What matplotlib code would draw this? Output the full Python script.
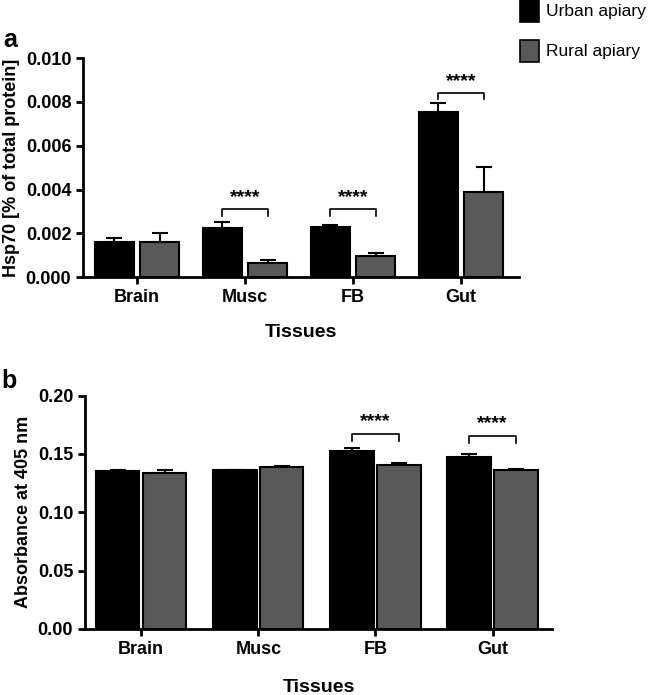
import numpy as np
import matplotlib
matplotlib.use("Agg")
import matplotlib.pyplot as plt

plt.rcParams['font.family'] = ['Liberation Sans', 'DejaVu Sans']

tissues = ["Brain", "Musc", "FB", "Gut"]

# panel a: Hsp70 [% of total protein]
hsp_urban = [0.00162, 0.00223, 0.00231, 0.00754]
hsp_urban_err = [0.00016, 0.00029, 0.00007, 0.00041]
hsp_rural = [0.00163, 0.00066, 0.00097, 0.00388]
hsp_rural_err = [0.00039, 0.00014, 0.00014, 0.00115]
hsp_sig = [None, 0.00311, 0.00311, 0.00842]

# panel b: absorbance at 405 nm
abs_urban = [0.1358, 0.1364, 0.1524, 0.1475]
abs_urban_err = [0.0003, 0.0003, 0.0028, 0.0028]
abs_rural = [0.1335, 0.1387, 0.1407, 0.1364]
abs_rural_err = [0.0026, 0.0011, 0.0014, 0.0006]
abs_sig = [None, None, 0.1675, 0.1658]

URBAN = "black"
RURAL = "#595959"

fig = plt.figure(figsize=(6.49, 6.95), dpi=100)


def draw_panel(ax, urban, uerr, rural, rerr, sig, width, off, xlim, ylim, yticks, fmt,
               ylabel, drop, xpad):
    x = np.arange(len(tissues))
    ax.bar(x - off, urban, width, color=URBAN, edgecolor="black", linewidth=1.5, zorder=2)
    ax.bar(x + off, rural, width, color=RURAL, edgecolor="black", linewidth=1.5, zorder=2)
    ax.errorbar(x - off, urban, yerr=[np.zeros(len(x)), uerr], fmt="none",
                ecolor="black", elinewidth=1.5, capsize=6, capthick=1.5, zorder=1)
    ax.errorbar(x + off, rural, yerr=[np.zeros(len(x)), rerr], fmt="none",
                ecolor="black", elinewidth=1.5, capsize=6, capthick=1.5, zorder=1)
    for i, s in enumerate(sig):
        if s is None:
            continue
        ax.plot([i - off, i - off, i + off, i + off], [s - drop, s, s, s - drop],
                color="black", lw=1.2)
        ax.text(i, s + drop * 0.4, "****", ha="center", va="bottom",
                fontsize=14, fontweight="bold")
    ax.set_xlim(*xlim)
    ax.set_ylim(*ylim)
    ax.set_xticks(x)
    ax.set_xticklabels(tissues, fontsize=13, fontweight="bold")
    ax.set_yticks(yticks)
    ax.set_yticklabels([fmt.format(v) for v in yticks], fontsize=13, fontweight="bold")
    ax.set_ylabel(ylabel, fontsize=13, fontweight="bold", labelpad=4)
    ax.set_xlabel("Tissues", fontsize=14, fontweight="bold", labelpad=xpad)
    for sp in ["top", "right"]:
        ax.spines[sp].set_visible(False)
    for sp in ["left", "bottom"]:
        ax.spines[sp].set_linewidth(2)
    ax.tick_params(axis="both", width=2, length=5, direction="out")


ax1 = fig.add_axes([0.128, 0.601, 0.672, 0.3155])
draw_panel(ax1, hsp_urban, hsp_urban_err, hsp_rural, hsp_rural_err, hsp_sig,
           0.36, 0.21, (-0.5, 3.54), (0, 0.010),
           [0, 0.002, 0.004, 0.006, 0.008, 0.010], "{:.3f}",
           "Hsp70 [% of total protein]", 0.0003, 13)

ax2 = fig.add_axes([0.131, 0.095, 0.72, 0.3357])
draw_panel(ax2, abs_urban, abs_urban_err, abs_rural, abs_rural_err, abs_sig,
           0.37, 0.2, (-0.48, 3.51), (0, 0.20),
           [0, 0.05, 0.10, 0.15, 0.20], "{:.2f}",
           "Absorbance at 405 nm", 0.0065, 15)

fig.text(0.005, 0.932, "a", fontsize=18, fontweight="bold")
fig.text(0.002, 0.442, "b", fontsize=18, fontweight="bold")

# legend
fig.patches.append(plt.Rectangle((0.801, 0.969), 0.029, 0.031, transform=fig.transFigure,
                                 facecolor=URBAN, edgecolor="black", lw=1.2))
fig.patches.append(plt.Rectangle((0.801, 0.911), 0.029, 0.031, transform=fig.transFigure,
                                 facecolor=RURAL, edgecolor="black", lw=1.2))
fig.text(0.842, 0.984, "Urban apiary", fontsize=12.5, va="center")
fig.text(0.842, 0.926, "Rural apiary", fontsize=12.5, va="center")

fig.savefig("out.png", dpi=100)
